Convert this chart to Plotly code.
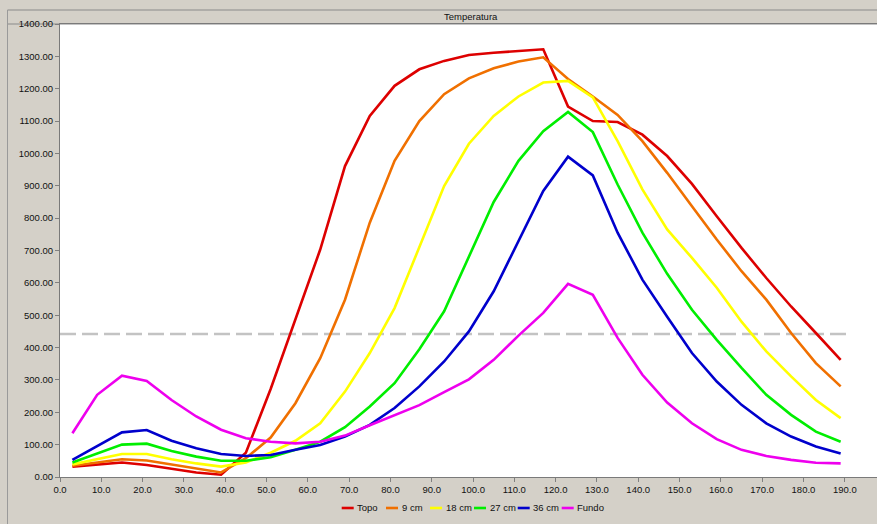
import plotly.graph_objects as go

# ---------------- data ----------------
times = [3, 9, 15, 21, 27, 33, 39, 45, 51, 57, 63, 69, 75, 81, 87, 93,
         99, 105, 111, 117, 123, 129, 135, 141, 147, 153, 159, 165, 171, 177, 183, 189]

topo = [32, 38, 45, 37, 25, 14, 7, 75, 272, 490, 703, 961, 1116, 1209, 1260, 1286,
        1304, 1311, 1316, 1322, 1145, 1100, 1097, 1058, 992, 906, 806, 708, 615, 527, 445, 362]

cm9 = [35, 45, 55, 51, 38, 25, 14, 58, 122, 228, 367, 548, 786, 977, 1100, 1183,
       1232, 1263, 1284, 1297, 1230, 1176, 1119, 1038, 940, 837, 734, 636, 548, 445, 352, 280]

cm18 = [39, 55, 71, 71, 55, 42, 32, 45, 75, 112, 166, 264, 383, 522, 713, 899,
        1030, 1116, 1176, 1219, 1224, 1173, 1038, 889, 765, 677, 585, 480, 388, 311, 238, 182]

cm27 = [45, 72, 100, 103, 80, 63, 50, 50, 61, 84, 109, 154, 218, 290, 395, 512,
        680, 850, 977, 1069, 1128, 1066, 904, 755, 628, 517, 424, 337, 254, 192, 140, 109]

cm36 = [53, 95, 138, 145, 112, 89, 71, 65, 68, 84, 99, 125, 161, 213, 280, 357,
        450, 574, 729, 884, 990, 932, 755, 610, 495, 383, 295, 223, 166, 125, 94, 73]

fundo = [135, 254, 313, 297, 238, 187, 146, 120, 109, 104, 109, 128, 160, 190, 222, 262,
         302, 362, 437, 507, 597, 563, 430, 316, 230, 166, 117, 84, 65, 53, 44, 42]

series_names = ["Topo", "9 cm", "18 cm", "27 cm", "36 cm", "Fundo"]
series_values = [topo, cm9, cm18, cm27, cm36, fundo]
series_colors = ["#dd0000", "#f07000", "#ffff00", "#00ee00", "#0000cc", "#ee00ee"]

threshold_value = 442
threshold_span = [0, 191]

chart_title = "Temperatura"

# ---------------- geometry helpers ----------------
W, H = 877, 524
ML, MT, MB = 60, 24, 47
PW = W - ML
PH = H - MT - MB
XMAX = 197.8
FONT = "Liberation Sans"
BG = "#d4d0c8"


def px(xp):
    return (xp - ML) / PW


def py(yp):
    return (H - MB - yp) / PH


fig = go.Figure()

fig.add_trace(go.Scatter(
    x=threshold_span, y=[threshold_value, threshold_value], mode="lines",
    line=dict(color="#c3c3c3", width=2.5, dash="16px,6px"),
    showlegend=False, hoverinfo="skip"))

for name, vals, col in zip(series_names, series_values, series_colors):
    fig.add_trace(go.Scatter(
        x=times, y=vals, mode="lines", name=name,
        line=dict(color=col, width=2.6), showlegend=False))

shapes = []
annotations = []

# title bar
shapes.append(dict(type="rect", xref="paper", yref="paper",
                   x0=px(7.5), x1=px(880), y0=py(24), y1=py(10),
                   line=dict(color="#8a8a8a", width=1), fillcolor=BG, layer="below"))
# left panel edge
shapes.append(dict(type="line", xref="paper", yref="paper",
                   x0=px(7.5), x1=px(7.5), y0=py(530), y1=py(10),
                   line=dict(color="#9a9a9a", width=1)))
annotations.append(dict(text=chart_title, xref="paper", yref="paper",
                        x=px(471), y=py(17), showarrow=False,
                        xanchor="center", yanchor="middle",
                        font=dict(family=FONT, size=9.5, color="#111")))

# manual legend
legend_x = [341.7, 386, 430, 474, 517.7, 561.7]
legend_y = 508
for name, col, lx in zip(series_names, series_colors, legend_x):
    shapes.append(dict(type="line", xref="paper", yref="paper",
                       x0=px(lx), x1=px(lx + 12), y0=py(legend_y), y1=py(legend_y),
                       line=dict(color=col, width=2.6)))
    annotations.append(dict(text=name, xref="paper", yref="paper",
                            x=px(lx + 13.5), y=py(legend_y), showarrow=False,
                            xanchor="left", yanchor="middle",
                            font=dict(family=FONT, size=9.5, color="#111")))

fig.update_layout(
    width=W, height=H,
    margin=dict(l=ML, r=0, t=MT, b=MB, pad=0),
    paper_bgcolor=BG, plot_bgcolor="white",
    font=dict(family=FONT, size=9.5, color="#111"),
    showlegend=False,
    shapes=shapes, annotations=annotations,
    xaxis=dict(range=[0, XMAX], tick0=0, dtick=10, tickformat=".1f",
               ticks="outside", ticklen=4, tickcolor="#808080",
               showline=True, linecolor="#7a7a7a", linewidth=1, mirror=True,
               showgrid=False, zeroline=False, fixedrange=True),
    yaxis=dict(range=[0, 1400], tick0=0, dtick=100, tickformat=".2f",
               ticks="outside", ticklen=4, tickcolor="#808080",
               showline=True, linecolor="#7a7a7a", linewidth=1,
               showgrid=False, zeroline=False, fixedrange=True),
)

fig.write_html(
    "out.html",
    config={"displayModeBar": False, "staticPlot": True},
    post_script="document.body.style.margin='0px';document.body.style.background='#d4d0c8';",
)
